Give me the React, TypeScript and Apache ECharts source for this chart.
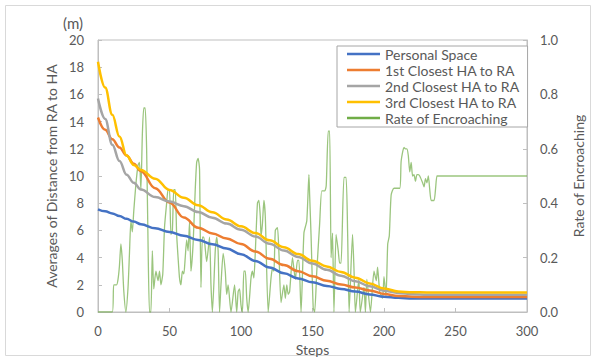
import React, { useEffect, useRef } from "react";
import * as echarts from "echarts";

const stepTicks = [0, 50, 100, 150, 200, 250, 300];

const curveSteps = [0, 5, 10, 15, 20, 25, 30, 40, 50, 60, 70, 80, 90, 100, 110, 120, 130, 140, 150, 160, 170, 180, 190, 200, 210, 220, 230, 240, 300];
const personalSpace = [7.55, 7.4, 7.25, 7.05, 6.85, 6.65, 6.45, 6.15, 5.88, 5.6, 5.3, 4.98, 4.66, 4.25, 3.75, 3.27, 2.85, 2.47, 2.18, 1.92, 1.7, 1.5, 1.29, 1.12, 1.04, 1.0, 1.0, 1.0, 1.0];
const closest1 = [14.3, 13.4, 12.7, 12.1, 11.5, 10.9, 10.35, 9.1, 8.05, 6.95, 6.2, 5.78, 5.4, 5.0, 4.45, 3.92, 3.45, 3.0, 2.62, 2.3, 2.02, 1.8, 1.58, 1.33, 1.18, 1.12, 1.1, 1.1, 1.1];
const closest2 = [15.7, 14.2, 12.3, 11.1, 10.1, 9.5, 9.0, 8.45, 8.12, 7.78, 7.35, 6.93, 6.5, 6.05, 5.55, 5.02, 4.52, 4.05, 3.57, 3.1, 2.66, 2.26, 1.9, 1.56, 1.4, 1.3, 1.27, 1.27, 1.27];
const closest3 = [18.4, 16.5, 14.5, 12.9, 11.5, 10.8, 10.45, 9.8, 8.97, 8.4, 7.85, 7.33, 6.8, 6.3, 5.8, 5.27, 4.76, 4.26, 3.77, 3.35, 2.94, 2.52, 2.1, 1.73, 1.5, 1.45, 1.44, 1.44, 1.44];

const encroachSteps = [0, 10, 11, 13, 14, 15, 16, 17, 18, 19.5, 21, 22, 23, 24, 25, 26.5, 28, 29, 30, 31, 32, 33, 34, 35, 36, 37, 38, 39, 40.5, 42, 43, 44, 45.3, 46.5, 48, 49, 50, 51, 52, 53, 54, 55, 56, 57, 58, 59, 60, 61, 62, 63, 64, 65, 66.5, 68, 69, 70, 71, 72, 73, 74, 76, 78, 79, 80, 82, 83, 84, 85, 86, 87.5, 89, 90, 91, 93, 95.5, 97, 98, 99, 100, 101, 102, 103, 104, 105, 107, 108, 109, 110, 111.5, 112.5, 113.5, 114, 115, 116, 117, 119, 121, 122, 123, 124, 125.5, 126.5, 128, 130, 131, 132, 133, 134, 136, 138, 139.5, 140.5, 142, 144, 146, 147.5, 148, 149, 150.5, 151.5, 153, 155, 156.5, 158.6, 159.6, 161, 162, 163, 164, 165, 166.5, 168, 169, 170, 172, 173.5, 174.6, 175.6, 178, 179, 180, 182.4, 183.4, 186, 187, 188, 190.5, 193, 194.6, 195.5, 197, 199, 200, 201.4, 202.6, 203.7, 205, 207, 211, 212, 214, 215, 216, 217, 218, 219, 220, 221, 222, 223, 224, 225, 227, 228, 229, 230, 231, 232, 233, 235, 236, 237, 238, 300];
const encroachRates = [0, 0, 0.1, 0.1, 0.12, 0.17, 0.25, 0.19, 0.08, 0, 0.09, 0.215, 0.335, 0.295, 0.37, 0.47, 0.54, 0.55, 0.45, 0.65, 0.75, 0.75, 0.6, 0.25, 0, 0, 0.225, 0.085, 0.15, 0.115, 0.15, 0.1, 0.14, 0.31, 0.4, 0.45, 0.45, 0.285, 0.3, 0.45, 0.45, 0.285, 0.2, 0.125, 0.1, 0.15, 0.14, 0.2, 0.265, 0.225, 0.33, 0.15, 0.25, 0.45, 0.55, 0.565, 0.525, 0.09, 0.275, 0.275, 0.185, 0.275, 0.1, 0, 0.225, 0.275, 0.225, 0, 0.1, 0.215, 0.15, 0.065, 0.1, 0, 0.1, 0, 0.075, 0.085, 0.025, 0, 0.15, 0.15, 0.05, 0, 0.125, 0.15, 0.125, 0.22, 0.4, 0.41, 0.35, 0.28, 0.325, 0.41, 0.35, 0, 0.125, 0.16, 0.15, 0.3, 0.31, 0.22, 0.035, 0.1, 0.05, 0.1, 0.065, 0.075, 0.2, 0.12, 0.19, 0.19, 0, 0.29, 0.335, 0.505, 0.43, 0.28, 0.015, 0, 0.15, 0.325, 0.445, 0.445, 0.465, 0.665, 0.665, 0.2, 0.29, 0, 0.285, 0.225, 0.18, 0.18, 0.495, 0.495, 0.28, 0, 0.285, 0.16, 0, 0.12, 0, 0.09, 0, 0.12, 0, 0.15, 0.115, 0.165, 0.075, 0.05, 0.13, 0.06, 0.25, 0.28, 0.43, 0.455, 0.455, 0.555, 0.605, 0.6, 0.6, 0.575, 0.515, 0.55, 0.5, 0.505, 0.48, 0.505, 0.505, 0.5, 0.475, 0.46, 0.49, 0.475, 0.5, 0.45, 0.41, 0.41, 0.45, 0.5, 0.5, 0.5];

const seriesNames = ["Personal Space", "1st Closest HA to RA", "2nd Closest HA to RA", "3rd Closest HA to RA", "Rate of Encroaching"];
const seriesColors = ["#4472C4", "#ED7D31", "#A5A5A5", "#FFC000", "#70AD47"];

const FONT = "Lato, 'Noto Sans', sans-serif";
const TEXT = "#595959";
const LINE = "#BFBFBF";

const zip = (xs: number[], ys: number[]) => xs.map((x, i) => [x, ys[i]]);

export default function App() {
  const ref = useRef<HTMLDivElement>(null);
  useEffect(() => {
    const chart = echarts.init(ref.current!, null, { renderer: "svg" });
    const curves = [personalSpace, closest1, closest2, closest3];
    chart.setOption({
      animation: false,
      backgroundColor: "#ffffff",
      textStyle: { fontFamily: FONT },
      grid: { left: 98, right: 69, top: 40, bottom: 48, show: true, borderColor: LINE, borderWidth: 1 },
      graphic: [
        { type: "rect", shape: { x: 5.5, y: 5.5, width: 585, height: 350 }, style: { fill: "none", stroke: "#D9D9D9", lineWidth: 1 }, silent: true },
        { type: "text", left: 63, top: 15, style: { text: "(m)", fill: TEXT, fontSize: 15, fontFamily: FONT } },
      ],
      legend: {
        orient: "vertical",
        left: 337,
        top: 46,
        padding: [1, 8, 2, 10],
        itemGap: 2,
        itemWidth: 33,
        itemHeight: 2.5,
        icon: "rect",
        borderColor: "#A6A6A6",
        borderWidth: 1,
        borderRadius: 0,
        backgroundColor: "#ffffff",
        data: seriesNames.map((n, i) => ({ name: n, itemStyle: { color: seriesColors[i] } })),
        textStyle: { color: TEXT, fontSize: 14, lineHeight: 14, fontFamily: FONT },
      },
      xAxis: {
        type: "value",
        min: 0,
        max: 300,
        interval: 50,
        name: "Steps",
        nameLocation: "middle",
        nameGap: 30,
        nameTextStyle: { color: TEXT, fontSize: 14 },
        axisLine: { show: true, lineStyle: { color: LINE } },
        axisTick: { show: true, inside: true, length: 4, lineStyle: { color: LINE } },
        axisLabel: { color: TEXT, fontSize: 13, margin: 12, formatter: (v: number) => (stepTicks.includes(v) ? String(v) : "") },
        splitLine: { show: false },
      },
      yAxis: [
        {
          type: "value",
          min: 0,
          max: 20,
          interval: 2,
          name: "Averages of Distance from RA to HA",
          nameLocation: "middle",
          nameRotate: 90,
          nameGap: 37,
          nameTextStyle: { color: TEXT, fontSize: 14 },
          axisLine: { show: true, lineStyle: { color: LINE } },
          axisTick: { show: true, inside: true, length: 4, lineStyle: { color: LINE } },
          axisLabel: { color: TEXT, fontSize: 13, margin: 14 },
          splitLine: { show: false },
        },
        {
          type: "value",
          min: 0,
          max: 1,
          interval: 0.2,
          position: "right",
          name: "Rate of Encroaching",
          nameLocation: "middle",
          nameRotate: 90,
          nameGap: 44,
          nameTextStyle: { color: TEXT, fontSize: 14 },
          axisLine: { show: true, lineStyle: { color: LINE } },
          axisTick: { show: true, inside: true, length: 4, lineStyle: { color: LINE } },
          axisLabel: { color: TEXT, fontSize: 13, margin: 13, formatter: (v: number) => v.toFixed(1) },
          splitLine: { show: false },
        },
      ],
      series: [
        ...curves.map((vals, i) => ({
          name: seriesNames[i],
          type: "line",
          yAxisIndex: 0,
          data: zip(curveSteps, vals),
          symbol: "none",
          smooth: 0.4,
          smoothMonotone: "x",
          z: 3,
          lineStyle: { color: seriesColors[i], width: 2.5 },
          itemStyle: { color: seriesColors[i] },
        })),
        {
          name: seriesNames[4],
          type: "line",
          yAxisIndex: 1,
          data: zip(encroachSteps, encroachRates),
          symbol: "none",
          smooth: 0.2,
          z: 2,
          lineStyle: { color: seriesColors[4], width: 1.3, opacity: 0.7 },
          itemStyle: { color: seriesColors[4] },
        },
      ],
    });
    return () => chart.dispose();
  }, []);
  return <div ref={ref} style={{ position: "absolute", left: 0, top: 0, width: 596, height: 361 }} />;
}
